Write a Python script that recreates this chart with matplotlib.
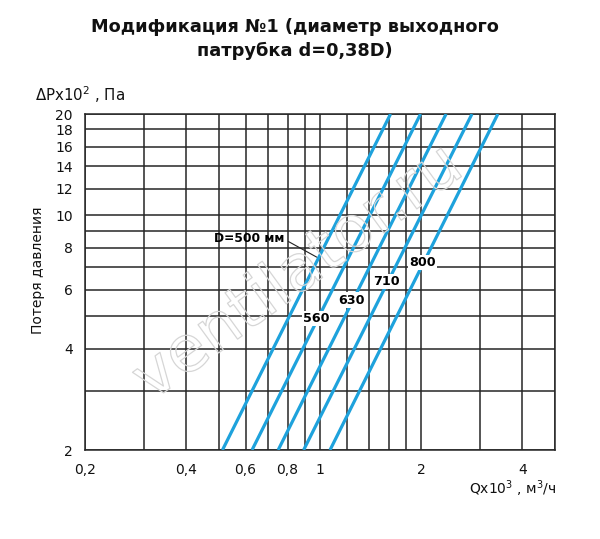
import matplotlib
matplotlib.use("Agg")
import matplotlib.pyplot as plt
import matplotlib.patheffects as pe
from matplotlib.ticker import FixedLocator, NullLocator

# diameters of the curves, mm
diameters = ["500", "560", "630", "710", "800"]
# flow (x10^3 m3/h) where each line crosses dP = 2 and dP = 20 (x10^2 Pa)
q_low = [0.512, 0.627, 0.750, 0.893, 1.070]
q_high = [1.620, 1.990, 2.370, 2.830, 3.380]
p_ends = [2, 20]

x_grid = [0.2, 0.3, 0.4, 0.5, 0.6, 0.7, 0.8, 0.9, 1, 1.2, 1.4, 1.6, 1.8, 2, 3, 4, 5]
x_ticks = [0.2, 0.4, 0.6, 0.8, 1, 2, 4]
x_labels = ["0,2", "0,4", "0,6", "0,8", "1", "2", "4"]
y_grid = [2, 3, 4, 5, 6, 7, 8, 9, 10, 12, 14, 16, 18, 20]
y_ticks = [2, 4, 6, 8, 10, 12, 14, 16, 18, 20]
y_labels = ["2", "4", "6", "8", "10", "12", "14", "16", "18", "20"]

# pressure where the diameter labels sit on their lines
label_p = [None, 4.91, 5.59, 6.36, 7.22]

W, H = 600, 539
fig = plt.figure(figsize=(6, 5.39), dpi=100)
ax = fig.add_axes([85.3 / W, 1 - 450 / H, (555 - 85.3) / W, (450 - 114) / H])
ax.set_xscale("log")
ax.set_yscale("log")
ax.set_xlim(0.2, 5)
ax.set_ylim(2, 20)

grid_c = "#262626"
for x in x_grid:
    ax.axvline(x, color=grid_c, lw=1.1, zorder=1)
for y in y_grid:
    ax.axhline(y, color=grid_c, lw=1.1, zorder=1)
for s in ax.spines.values():
    s.set_color(grid_c)
    s.set_linewidth(1.1)

ax.xaxis.set_major_locator(FixedLocator(x_ticks))
ax.xaxis.set_minor_locator(NullLocator())
ax.yaxis.set_major_locator(FixedLocator(y_ticks))
ax.yaxis.set_minor_locator(NullLocator())
ax.set_xticklabels(x_labels)
ax.set_yticklabels(y_labels)
ax.tick_params(length=0, labelsize=10, colors="#111111")
ax.tick_params(axis="x", pad=9)
ax.tick_params(axis="y", pad=9)

# watermark
fig.text(298 / W, 1 - 273 / H, "ventilator.ru", fontsize=46, rotation=36,
         ha="center", va="center", color="none",
         path_effects=[pe.withStroke(linewidth=0.9, foreground="#d6d6d6")])

blue = "#1ea2dc"
for i in range(len(diameters)):
    ax.plot([q_low[i], q_high[i]], p_ends, color=blue, lw=2.3, zorder=3,
            solid_capstyle="butt")
    if label_p[i] is not None:
        p = label_p[i]
        q = q_low[i] * (p / p_ends[0]) ** 0.5
        ax.text(q * 0.99, p, diameters[i], fontsize=9.2, fontweight="bold",
                ha="center", va="center", zorder=4,
                bbox=dict(boxstyle="square,pad=0.08", fc="white", ec="none"))

# label for the first line with leader
p0 = 7.5
q0 = q_low[0] * (p0 / p_ends[0]) ** 0.5
ax.annotate("D=" + diameters[0] + " мм", xy=(q0 * 0.985, p0), xytext=(0.615, 8.55),
            fontsize=8.8, fontweight="bold",
            ha="center", va="center", zorder=4,
            arrowprops=dict(arrowstyle="-", color="#222222", lw=0.8,
                            shrinkA=1, shrinkB=0,
                            relpos=(1.0, 0.4)))

fig.text(295 / W, 1 - 39 / H, "Модификация №1 (диаметр выходного\nпатрубка d=0,38D)",
         ha="center", va="center", fontsize=12.8, fontweight="bold",
         linespacing=1.4, color="#111111")
fig.text(35 / W, 1 - 95 / H, "ΔPx10$^2$ , Па", ha="left", va="center",
         fontsize=10.8, color="#111111")
fig.text(38 / W, 1 - 270 / H, "Потеря давления", ha="center", va="center",
         rotation=90, fontsize=10, color="#111111")
fig.text(557 / W, 1 - 489 / H, "Qx10$^3$ , м$^3$/ч", ha="right", va="center",
         fontsize=10, color="#111111")

fig.savefig("out.png", dpi=100, facecolor="white")
